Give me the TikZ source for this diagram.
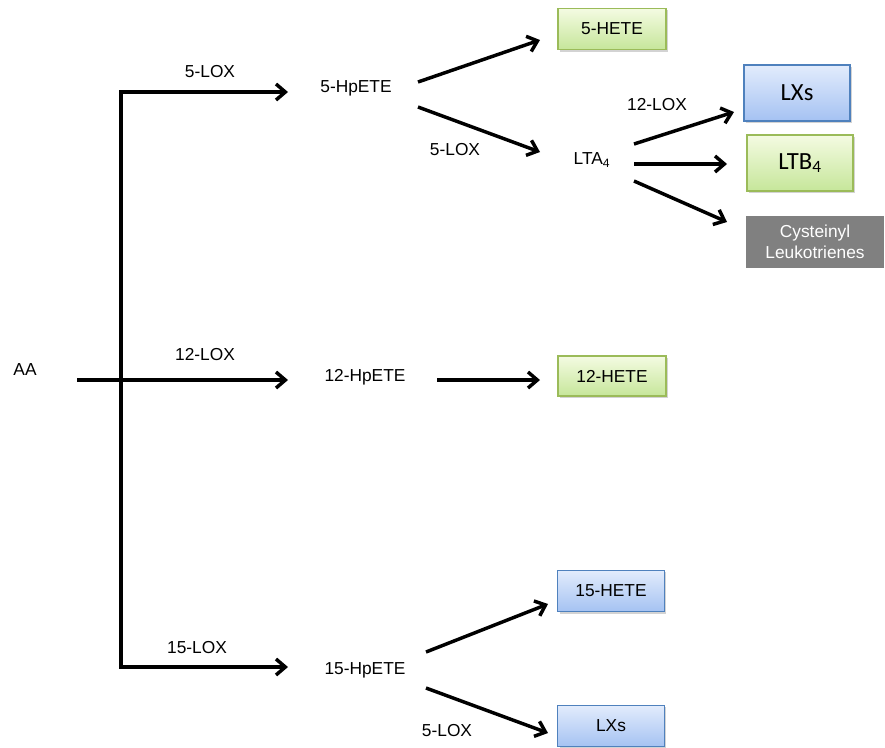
\documentclass[tikz,border=0pt]{standalone}
\usepackage{fontspec}
\setmainfont{Liberation Sans}
\newfontfamily\calib{Carlito}
\usetikzlibrary{arrows.meta,shadows}
\definecolor{gtop}{HTML}{F4FBE2}
\definecolor{gbot}{HTML}{C6E69A}
\definecolor{gbrd}{HTML}{9BBB59}
\definecolor{btop}{HTML}{E2ECFC}
\definecolor{bbot}{HTML}{A5C2F2}
\definecolor{bbrd}{HTML}{4F81BD}
\definecolor{grayb}{HTML}{808080}
\tikzset{
  lbl/.style={font=\fontsize{13}{15}\selectfont, inner sep=0pt},
  tipb/.tip={Straight Barb[length=7pt,width=12pt,line width=2.6pt]},
  arr/.style={line width=2.6pt, -tipb},
  gbox/.style={draw=gbrd, line width=0.8pt, top color=gtop, bottom color=gbot,
     drop shadow={shadow xshift=1.5pt, shadow yshift=-1.5pt, opacity=0.35},
     minimum width=81pt, minimum height=31pt, font=\fontsize{13}{15}\selectfont},
  bbox/.style={draw=bbrd, line width=0.8pt, top color=btop, bottom color=bbot,
     drop shadow={shadow xshift=1.5pt, shadow yshift=-1.5pt, opacity=0.35},
     minimum width=80pt, minimum height=31pt, font=\fontsize{13}{15}\selectfont},
  big/.style={minimum height=42pt, font=\calib\fontsize{18.5}{20}\selectfont},
}
\begin{document}
\begin{tikzpicture}[x=0.75pt,y=-0.75pt]
\useasboundingbox (0,0) rectangle (885,747);
\begin{scope}
\clip (0,0) rectangle (885,747);
% text nodes
\node[lbl] (aa) at (25,370) {AA};
\node[lbl] (l5a) at (210,72) {5-LOX};
\node[lbl] (l12a) at (205,355) {12-LOX};
\node[lbl] (l15a) at (197,648) {15-LOX};
\node[lbl] (hp5) at (356,88) {5-HpETE};
\node[lbl] (hp12) at (365,377) {12-HpETE};
\node[lbl] (hp15) at (365,670) {15-HpETE};
\node[lbl] (l5b) at (455,150) {5-LOX};
\node[lbl] (l5c) at (447,731) {5-LOX};
\node[lbl] (lta) at (592,160) {LTA\textsubscript{4}};
\node[lbl] (l12b) at (657,105) {12-LOX};
% boxes
\node[gbox] (hete5) at (612,29) {5-HETE};
\node[bbox,big,minimum width=79.5pt] (lxs1) at (797,93) {LXs};
\node[gbox,big,minimum width=79.5pt] (ltb) at (800,163) {LTB\textsubscript{4}};
\node[fill=grayb, text=white, minimum width=103.5pt, minimum height=39pt, align=center,
      font=\fontsize{13}{16}\selectfont, inner sep=0pt] (cys) at (815,242) {Cysteinyl\\Leukotrienes};
\node[gbox, minimum height=30pt] (hete12) at (612,376) {12-HETE};
\node[bbox] (hete15) at (611,591) {15-HETE};
\node[bbox] (lxs2) at (611,726) {LXs};
% connector end points
\coordinate (ttop) at (121,92);
\coordinate (tbot) at (121,667);
\coordinate (e5) at (288,92);
\coordinate (e15) at (288,667);
\coordinate (s12) at (77,380);
\coordinate (e12) at (288,380);
\coordinate (a1s) at (418,82);  \coordinate (a1e) at (540,40);
\coordinate (a2s) at (418,107); \coordinate (a2e) at (540,152);
\coordinate (b1s) at (634,144); \coordinate (b1e) at (734,112);
\coordinate (b2s) at (634,164); \coordinate (b2e) at (727,164);
\coordinate (b3s) at (634,181); \coordinate (b3e) at (727,222);
\coordinate (c1s) at (437,380); \coordinate (c1e) at (540,380);
\coordinate (d1s) at (426,652); \coordinate (d1e) at (548,604);
\coordinate (d2s) at (426,688); \coordinate (d2e) at (548,733);
% trunk
\draw[line width=2.6pt, tipb-tipb] (e5) -- (ttop) -- (tbot) -- (e15);
\draw[arr] (s12) -- (e12);
% branches
\draw[arr] (a1s) -- (a1e);
\draw[arr] (a2s) -- (a2e);
\draw[arr] (b1s) -- (b1e);
\draw[arr] (b2s) -- (b2e);
\draw[arr] (b3s) -- (b3e);
\draw[arr] (c1s) -- (c1e);
\draw[arr] (d1s) -- (d1e);
\draw[arr] (d2s) -- (d2e);
\end{scope}
\end{tikzpicture}
\end{document}
